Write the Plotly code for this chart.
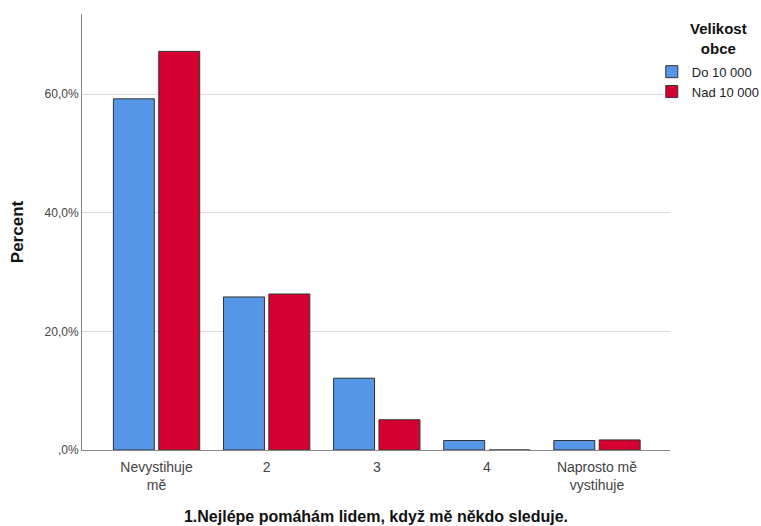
import plotly.graph_objects as go

categories = ["Nevystihuje<br>mě", "2", "3", "4", "Naprosto mě<br>vystihuje"]
do_10000 = [59.2, 25.8, 12.1, 1.6, 1.6]
nad_10000 = [67.2, 26.3, 5.1, 0.0, 1.7]
tick_vals = [0, 20, 40, 60]
tick_text = [",0%", "20,0%", "40,0%", "60,0%"]

fig = go.Figure()
fig.add_trace(go.Bar(x=categories, y=do_10000, name="Do 10 000",
                     marker=dict(color="#5596E6", line=dict(color="#333333", width=1))))
fig.add_trace(go.Bar(x=categories, y=nad_10000, name="Nad 10 000",
                     marker=dict(color="#D5002F", line=dict(color="#333333", width=1))))

plot_w = 761 - 82 - 91
plot_h = 526 - 14 - 76

fig.update_layout(
    width=761, height=526,
    margin=dict(l=82, r=91, t=14, b=76, autoexpand=False),
    paper_bgcolor="white", plot_bgcolor="white",
    barmode="group", bargap=0.176, bargroupgap=0.097,
    font=dict(family="Liberation Sans, Arial, sans-serif", color="#222222"),
    legend=dict(
        x=0.969, xanchor="left", y=0.902, yanchor="top",
        font=dict(size=13, color="#222222"),
        itemwidth=30, tracegroupgap=0, traceorder="normal",
        bgcolor="rgba(0,0,0,0)",
    ),
    showlegend=True,
    annotations=[dict(
        text="<b>Velikost<br>obce</b>",
        x=(718 - 82) / plot_w, xref="paper", y=(450 - 38) / plot_h, yref="paper",
        xanchor="center", yanchor="middle",
        showarrow=False, font=dict(size=15, color="#111111"),
    )],
)
fig.update_xaxes(
    range=[-0.677, 4.663],
    showline=True, linecolor="#888888", linewidth=1,
    tickfont=dict(size=14, color="#444444"),
    ticklabelstandoff=4,
    title=dict(text="<b>1.Nejlépe pomáhám lidem, když mě někdo sleduje.</b>",
               font=dict(size=16, color="#111111"), standoff=18),
    ticks="",
)
fig.update_yaxes(
    range=[0, 73.5], tickvals=tick_vals, ticktext=tick_text,
    showgrid=True, gridcolor="#D9D9D9", gridwidth=1,
    showline=True, linecolor="#888888", linewidth=1,
    zeroline=False,
    tickfont=dict(size=12, color="#444444"),
    title=dict(text="<b>Percent</b>", font=dict(size=17, color="#111111"), standoff=16),
    ticks="",
)
fig.write_html("out.html", config={"displayModeBar": False},
               post_script="document.body.style.margin='0';")
